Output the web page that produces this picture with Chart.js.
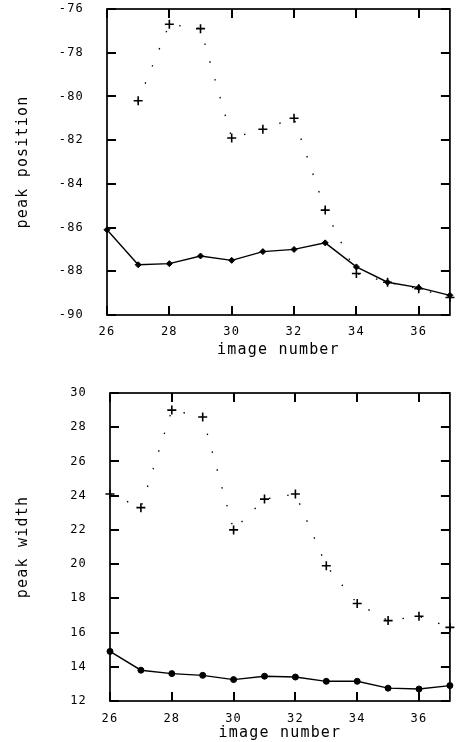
<!DOCTYPE html>
<html>
<head>
<meta charset="utf-8">
<script src="https://cdn.jsdelivr.net/npm/chart.js@4/dist/chart.umd.min.js"></script>
<style>
  html, body { margin: 0; padding: 0; background: #fff; }
  .panel { position: absolute; left: 0; width: 456px; height: 371px; }
</style>
</head>
<body>
<div class="panel" style="top:0"><canvas id="positionChart"></canvas></div>
<div class="panel" style="top:371px"><canvas id="widthChart"></canvas></div>
<script>
var imageNumber = [26, 27, 28, 29, 30, 31, 32, 33, 34, 35, 36, 37];

// peak position (top panel)
var positionSolid = [-86.1, -87.7, -87.65, -87.3, -87.5, -87.1, -87.0, -86.7, -87.8, -88.5, -88.75, -89.1];
var positionDotted = [null, -80.2, -76.7, -76.9, -81.9, -81.5, -81.0, -85.2, -88.1, -88.5, -88.8, -89.2];

// peak width (bottom panel)
var widthSolid = [14.9, 13.8, 13.6, 13.5, 13.25, 13.45, 13.4, 13.15, 13.15, 12.75, 12.7, 12.9];
var widthDotted = [24.1, 23.3, 29.0, 28.6, 22.0, 23.8, 24.1, 19.9, 17.7, 16.7, 16.95, 16.3];

var xLabel = 'image number';
var FONT = '"DejaVu Sans Mono", "Liberation Mono", monospace';

function toPoints(values) {
    return imageNumber.map(function (x, i) {
        return {x: x, y: values[i]};
    });
}

function spacing(chart) {
    chart.ctx.letterSpacing = '1.2px';
}

// box round the plot with inward tick marks on all four sides
var framePlugin = {
    id: 'frame',
    beforeUpdate: spacing,
    beforeDraw: spacing,
    afterDraw: function (chart) {
        var a = chart.chartArea, ctx = chart.ctx;
        var xs = chart.scales.x, ys = chart.scales.y, t = 9;
        ctx.save();
        ctx.strokeStyle = '#000';
        ctx.lineWidth = 1.7;
        ctx.strokeRect(a.left, a.top, a.right - a.left, a.bottom - a.top);
        ctx.lineWidth = 2;
        var i, px, py;
        for (i = 0; i < xs.ticks.length; i++) {
            px = Math.round(xs.getPixelForValue(xs.ticks[i].value));
            ctx.beginPath();
            ctx.moveTo(px, a.top); ctx.lineTo(px, a.top + t);
            ctx.moveTo(px, a.bottom); ctx.lineTo(px, a.bottom - t);
            ctx.stroke();
        }
        for (i = 0; i < ys.ticks.length; i++) {
            py = Math.round(ys.getPixelForValue(ys.ticks[i].value));
            ctx.beginPath();
            ctx.moveTo(a.left, py); ctx.lineTo(a.left + t, py);
            ctx.moveTo(a.right, py); ctx.lineTo(a.right - t, py);
            ctx.stroke();
        }
        ctx.restore();
    }
};

// invisible tick marks, only used to push the labels away from the frame
function hiddenGrid(len) {
    return {display: true, drawOnChartArea: false, drawTicks: true, tickLength: len, color: 'rgba(0,0,0,0)'};
}

function makeChart(id, cfg) {
    var ctx = document.getElementById(id).getContext('2d');
    return new Chart(ctx, {
        type: 'line',
        data: {
            datasets: [{
                data: toPoints(cfg.solid),
                borderColor: '#000',
                backgroundColor: '#000',
                borderWidth: 1.4,
                pointStyle: cfg.marker,
                pointRadius: 3,
                pointBorderWidth: 1,
                tension: 0,
                clip: false
            }, {
                data: toPoints(cfg.dotted),
                borderColor: '#000',
                backgroundColor: '#000',
                borderWidth: 1.3,
                borderDash: [1.5, 17],
                pointStyle: 'cross',
                pointRadius: 4.5,
                pointBorderWidth: 1.6,
                spanGaps: true,
                tension: 0,
                clip: false
            }]
        },
        options: {
            responsive: true,
            maintainAspectRatio: false,
            animation: false,
            events: [],
            layout: {padding: {top: cfg.top, right: 1, left: 0, bottom: 0}},
            plugins: {legend: {display: false}, tooltip: {enabled: false}},
            scales: {
                x: {
                    type: 'linear',
                    min: 26,
                    max: 37,
                    afterFit: function (s) { s.height = cfg.xHeight; },
                    grid: hiddenGrid(cfg.xPad),
                    border: {display: false},
                    ticks: {
                        stepSize: 2,
                        includeBounds: false,
                        maxRotation: 0,
                        autoSkip: false,
                        padding: 0,
                        color: '#000',
                        font: {family: FONT, size: 12}
                    },
                    title: {
                        display: true,
                        text: xLabel,
                        color: '#000',
                        font: {family: FONT, size: 15},
                        padding: {top: cfg.xTitlePad, bottom: cfg.xTitlePad}
                    }
                },
                y: {
                    min: cfg.yMin,
                    max: cfg.yMax,
                    afterFit: function (s) { s.width = cfg.yWidth; },
                    grid: hiddenGrid(23),
                    border: {display: false},
                    ticks: {
                        stepSize: 2,
                        padding: 0,
                        color: '#000',
                        font: {family: FONT, size: 12}
                    },
                    title: {
                        display: true,
                        text: cfg.yLabel,
                        color: '#000',
                        font: {family: FONT, size: 15},
                        padding: {top: 14, bottom: 14}
                    }
                }
            }
        },
        plugins: [framePlugin]
    });
}

makeChart('positionChart', {
    solid: positionSolid, dotted: positionDotted, marker: 'rectRot',
    yMin: -90, yMax: -76, yLabel: 'peak position',
    top: 9, yWidth: 107, xHeight: 56, xPad: 10, xTitlePad: 12
});

makeChart('widthChart', {
    solid: widthSolid, dotted: widthDotted, marker: 'circle',
    yMin: 12, yMax: 30, yLabel: 'peak width',
    top: 22, yWidth: 110, xHeight: 41, xPad: 11, xTitlePad: 0
});
</script>
</body>
</html>
